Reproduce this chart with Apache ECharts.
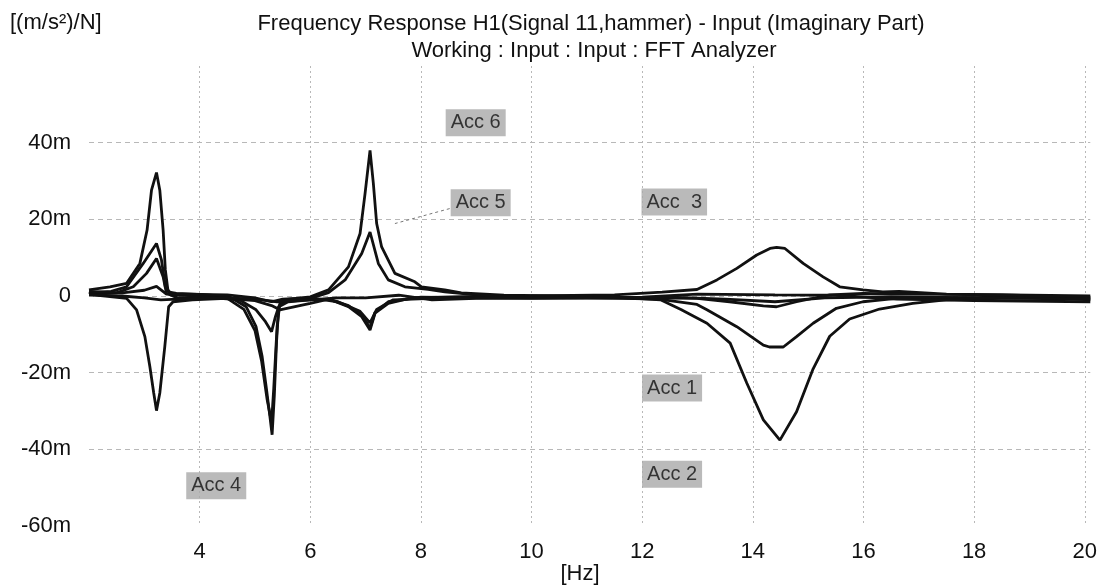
<!DOCTYPE html>
<html>
<head>
<meta charset="utf-8">
<title>Frequency Response H1 - Imaginary Part</title>
<script src="https://cdn.jsdelivr.net/npm/echarts@6/dist/echarts.min.js"></script>
<style>
    html, body { margin: 0; padding: 0; background: #ffffff; }
    #main { width: 1100px; height: 587px; }
</style>
</head>
<body>
<div id="main"></div>
<script>
// curves: [frequency Hz, value in m((m/s²)/N)]
let acc1 = [[2.0, 1.6], [2.38, 2.4], [2.68, 3.3], [2.92, 8.5], [3.05, 17.2], [3.13, 27.6], [3.22, 32.2], [3.28, 27.6],
    [3.34, 17.2], [3.38, 6.8], [3.43, 1.1], [3.58, 0.7], [4.0, 0.4], [4.54, -0.2], [4.84, -2.8], [5.02, -8.0],
    [5.13, -15.8], [5.21, -24.5], [5.27, -31.4], [5.31, -36.2], [5.35, -26], [5.39, -12], [5.43, -2.8], [5.5, -1.0],
    [6.0, -0.2], [6.33, 1.6], [6.69, 7.6], [6.9, 16.3], [6.99, 26.7], [7.08, 38.0], [7.14, 29.4], [7.2, 18.9],
    [7.29, 12.8], [7.53, 5.9], [7.89, 3.7], [8.01, 2.4], [8.43, 1.6], [8.73, 0.8], [9.5, 0.2], [10.5, 0], [11.5, -0.3],
    [12.33, -1.0], [12.7, -3.5], [13.17, -7.1], [13.59, -12.3], [13.89, -22.7], [14.19, -32.3], [14.49, -37.6],
    [14.79, -30.2], [15.09, -19.0], [15.39, -10.5], [15.75, -6.0], [16.29, -3.4], [16.89, -1.9], [17.49, -1.0],
    [18.5, -0.6], [19.5, -0.5], [20.1, -1.0]]
let acc2 = [[2.0, 0.8], [2.4, 1.2], [2.68, 2.4], [2.98, 8.5], [3.22, 13.7], [3.31, 9.4], [3.38, 2.4], [3.5, 0.3],
    [4.0, 0], [4.5, -0.6], [4.8, -3.5], [5.0, -9.0], [5.12, -17.0], [5.22, -27.0], [5.3, -33.0], [5.34, -24.0],
    [5.4, -8.0], [5.45, -2.0], [5.6, -1.2], [6.0, -0.6], [6.33, 0.9], [6.63, 4.2], [6.93, 11.1], [7.08, 16.7],
    [7.23, 8.5], [7.41, 4.2], [7.71, 2.4], [8.13, 1.7], [8.43, 1.1], [9.0, 0.3], [10.0, -0.2], [11.0, -0.4],
    [12.3, -0.8], [12.99, -2.2], [13.17, -3.6], [13.71, -8.0], [14.19, -12.8], [14.3, -13.3], [14.55, -13.3],
    [14.79, -10.6], [15.09, -7.1], [15.51, -3.2], [15.99, -1.5], [16.59, -0.6], [17.5, -0.4], [19.0, -0.3], [20.1, -0.6]]
let acc3 = [[2.0, 0.5], [2.5, 0.8], [2.8, 2.4], [3.04, 5.9], [3.22, 9.8], [3.34, 5.0], [3.4, 0.7], [3.6, -0.5],
    [4.2, -0.4], [4.72, -1.0], [5.02, -3.6], [5.19, -6.7], [5.3, -9.3], [5.37, -5.4], [5.43, -2.8], [5.6, -1.5],
    [6.0, -1.0], [6.33, -0.8], [6.69, -2.8], [6.93, -5.4], [7.08, -8.9], [7.17, -4.5], [7.41, -1.9], [7.83, -0.5],
    [8.73, -0.2], [10.0, 0], [11.5, 0.3], [12.36, 1.0], [12.99, 1.7], [13.35, 4.2], [13.71, 7.2], [14.07, 10.7],
    [14.31, 12.4], [14.43, 12.7], [14.58, 12.4], [14.91, 8.5], [15.27, 5.0], [15.57, 2.4], [15.99, 1.6], [16.35, 1.1],
    [16.64, 1.2], [17.5, 0.5], [19.0, 0.2], [20.1, 0]]
let acc4 = [[2.0, 1.0], [2.08, 0.3], [2.68, -0.6], [2.86, -3.6], [3.01, -10.6], [3.1, -18.4], [3.17, -25.3],
    [3.22, -29.9], [3.28, -25.3], [3.37, -13.2], [3.44, -2.8], [3.52, -1.5], [3.87, -1.0], [4.48, -0.6], [5.0, -1.2],
    [5.3, -2.5], [5.45, -3.6], [6.0, -1.9], [6.33, -0.8], [6.69, -2.5], [6.93, -5.0], [7.08, -8.3], [7.17, -4.3],
    [7.41, -1.5], [8.0, -0.3], [9.0, -0.5], [10.0, -0.6], [12.0, -0.5], [12.99, -0.6], [13.58, -1.5], [14.19, -2.6],
    [14.43, -2.8], [14.79, -1.5], [15.39, 0.3], [15.99, 0.7], [17.0, 0.5], [18.5, 0.3], [20.1, -0.3]]
let acc5 = [[2.0, 1.2], [2.6, 0.8], [3.0, 1.5], [3.22, 2.5], [3.4, 0.5], [3.7, 0.5], [4.5, 0.3], [5.0, -0.5],
    [5.3, -1.5], [5.5, -0.8], [6.0, -0.5], [6.5, -1.5], [6.9, -4.0], [7.08, -7.0], [7.2, -3.5], [7.5, -1.0],
    [8.2, -0.6], [9.5, -0.3], [11.0, -0.5], [12.5, -0.3], [13.5, -0.8], [14.4, -1.5], [15.3, -0.5], [16.5, -0.2],
    [18.0, -0.5], [20.1, -0.8]]
let acc6 = [[2.0, 0.3], [2.6, 0], [3.0, -0.5], [3.3, -1.0], [3.6, -0.8], [4.5, -0.5], [5.0, -0.8], [5.4, -1.5],
    [6.0, -1.0], [6.5, -0.5], [7.0, -0.5], [7.6, 0.2], [8.2, -1.0], [9.0, -0.6], [10.5, -0.5], [12.0, -0.3],
    [13.0, 0.5], [14.4, 0.3], [15.5, 0.2], [16.6, -0.8], [18.0, -1.2], [20.1, -1.5]]

// channel tags placed in data coordinates
let accTags = [[8.99, 45.2, 'Acc 6'], [9.08, 24.3, 'Acc 5'], [12.58, 24.5, 'Acc  3'],
    [12.54, -24.0, 'Acc 1'], [12.54, -46.5, 'Acc 2'], [4.3, -49.5, 'Acc 4']]
let acc5Leader = [[8.52, 22.8], [7.53, 18.9]]

let yTickValues = [-60, -40, -20, 0, 20, 40]
let xTickValues = [4, 6, 8, 10, 12, 14, 16, 18, 20]

let fontName = '"Liberation Sans", Arial, sans-serif'
let inkColor = '#111111'

let myChart = echarts.init(document.getElementById('main'), null, { renderer: 'canvas' })

function curve (name, data) {
    return {
        name: name,
        type: 'line',
        data: data,
        symbol: 'none',
        smooth: false,
        silent: true,
        lineStyle: { color: inkColor, width: 2.8 },
        z: 3
    }
}

let option = {
    backgroundColor: '#ffffff',
    animation: false,
    textStyle: { fontFamily: fontName },
    grid: { left: 89, right: 4, top: 66, bottom: 61 },
    graphic: [
        {
            type: 'text', left: 10, top: 12,
            style: { text: '[(m/s²)/N]', font: '22px ' + fontName, fill: inkColor }
        },
        {
            type: 'text', x: 591, y: 24,
            style: { text: 'Frequency Response H1(Signal 11,hammer) - Input (Imaginary Part)', font: '22px ' + fontName, fill: inkColor, textAlign: 'center', textVerticalAlign: 'middle' }
        },
        {
            type: 'text', x: 594, y: 51,
            style: { text: 'Working : Input : Input : FFT Analyzer', font: '22px ' + fontName, fill: inkColor, textAlign: 'center', textVerticalAlign: 'middle' }
        },
        {
            type: 'text', x: 580, y: 574,
            style: { text: '[Hz]', font: '22px ' + fontName, fill: inkColor, textAlign: 'center', textVerticalAlign: 'middle' }
        }
    ],
    xAxis: {
        type: 'value',
        min: 2,
        max: 20.1,
        interval: 2,
        axisLine: { show: false },
        axisTick: { show: false },
        axisLabel: {
            margin: 15,
            fontSize: 22,
            color: inkColor,
            formatter: function (v) {
                return xTickValues.indexOf(v) > -1 ? String(v) : ''
            }
        },
        splitLine: {
            show: true,
            showMinLine: false,
            showMaxLine: false,
            lineStyle: { color: '#b8b8b8', type: [2, 3], width: 1 }
        }
    },
    yAxis: {
        type: 'value',
        min: -60,
        max: 60,
        interval: 20,
        axisLine: { show: false },
        axisTick: { show: false },
        axisLabel: {
            margin: 18,
            fontSize: 22,
            color: inkColor,
            formatter: function (v) {
                if (yTickValues.indexOf(v) < 0) return ''
                return v === 0 ? '0' : v + 'm'
            }
        },
        splitLine: {
            show: true,
            showMinLine: false,
            showMaxLine: false,
            lineStyle: { color: '#b8b8b8', type: [5, 4], width: 1 }
        }
    },
    series: [
        curve('Acc 1', acc1),
        curve('Acc 2', acc2),
        curve('Acc 3', acc3),
        curve('Acc 4', acc4),
        curve('Acc 5', acc5),
        curve('Acc 6', acc6),
        {
            // dashed pointer from the Acc 5 tag
            type: 'line',
            data: acc5Leader,
            symbol: 'none',
            silent: true,
            lineStyle: { color: '#777777', width: 1, type: [3, 3] },
            z: 2
        },
        {
            type: 'scatter',
            data: accTags,
            symbolSize: 0,
            silent: true,
            z: 10,
            label: {
                show: true,
                position: 'inside',
                formatter: function (p) { return p.data[2] },
                fontSize: 20,
                fontFamily: fontName,
                color: inkColor,
                backgroundColor: '#a9a9a9',
                padding: [4, 5, 3, 5]
            }
        }
    ]
}

myChart.setOption(option)
</script>
</body>
</html>
